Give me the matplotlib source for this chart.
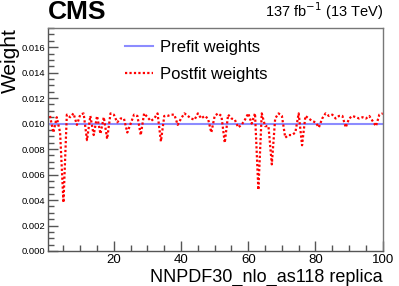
"""Prefit vs postfit PDF replica weights."""
import matplotlib
matplotlib.use("Agg")
import matplotlib.pyplot as plt
import numpy as np
from matplotlib.ticker import MultipleLocator, FormatStrFormatter

plt.rcParams["font.family"] = ["Liberation Sans", "DejaVu Sans"]

replica = np.arange(1, 101)
prefit = np.full(100, 0.01)
postfit = [
    0.0106, 0.0093, 0.0105, 0.0093, 0.0038, 0.0107, 0.0105, 0.0108, 0.0099, 0.0107,
    0.0108, 0.0087, 0.0106, 0.0091, 0.0106, 0.0092, 0.0105, 0.0088, 0.0108, 0.0107,
    0.0101, 0.0104, 0.0104, 0.0093, 0.0100, 0.0107, 0.0106, 0.0091, 0.0108, 0.0105,
    0.0102, 0.0104, 0.0108, 0.0086, 0.0106, 0.0106, 0.0107, 0.0107, 0.0099, 0.0104,
    0.0108, 0.0106, 0.0104, 0.0103, 0.0108, 0.0104, 0.0106, 0.0104, 0.0093, 0.0106,
    0.0108, 0.0106, 0.0085, 0.0107, 0.0104, 0.0103, 0.0097, 0.0099, 0.0103, 0.0108,
    0.0100, 0.0108, 0.0048, 0.0108, 0.0098, 0.0098, 0.0068, 0.0104, 0.0108, 0.0106,
    0.0089, 0.0091, 0.0091, 0.0093, 0.0108, 0.0083, 0.0106, 0.0104, 0.0102, 0.0101,
    0.0097, 0.0104, 0.0108, 0.0106, 0.0107, 0.0104, 0.0106, 0.0106, 0.0097, 0.0104,
    0.0106, 0.0105, 0.0104, 0.0105, 0.0104, 0.0106, 0.0102, 0.0098, 0.0107, 0.0108,
]

fig = plt.figure(figsize=(3.99, 2.86), dpi=100)
ax = fig.add_axes([0.1203, 0.1224, 0.8397, 0.7796])

ax.plot(replica, prefit, color="#8c8cff", lw=1.5, label="Prefit weights")
ax.plot(replica, postfit, color="#ff0000", lw=1.6, linestyle=(0, (1, 1)),
        dash_capstyle="butt", label="Postfit weights")

ax.set_xlim(0.4, 100.1)
ax.set_ylim(0.0, 0.0175)
ax.xaxis.set_major_locator(MultipleLocator(20))
ax.xaxis.set_minor_locator(MultipleLocator(5))
ax.yaxis.set_major_locator(MultipleLocator(0.002))
ax.yaxis.set_minor_locator(MultipleLocator(0.0005))
ax.yaxis.set_major_formatter(FormatStrFormatter("%.3f"))
ax.tick_params(which="both", direction="in", top=False, right=False, color="#555555")
ax.tick_params(which="major", length=7, width=1)
ax.tick_params(which="minor", length=4, width=1)
ax.tick_params(axis="x", labelsize=9.5, pad=2.5)
ax.tick_params(axis="y", labelsize=6.8, pad=2)
for side in ax.spines.values():
    side.set_color("#777777")
    side.set_linewidth(1)
ax.spines["left"].set_color("#555555")
ax.spines["bottom"].set_color("#555555")

ax.set_ylabel("Weight", fontsize=15, loc="top")
ax.yaxis.set_label_coords(-0.085, 1.0)
ax.set_xlabel("NNPDF30_nlo_as118 replica", fontsize=13, loc="right", va="baseline")
ax.xaxis.set_label_coords(1.0, -0.138)

ax.text(0.0, 1.02, "CMS", transform=ax.transAxes, fontsize=19,
        fontweight="bold", ha="left", va="bottom")
ax.text(1.0, 1.025, r"137 fb$^{-1}$ (13 TeV)", transform=ax.transAxes,
        fontsize=10.5, ha="right", va="bottom")

ax.legend(loc="upper left", bbox_to_anchor=(0.21, 0.975), frameon=False,
          fontsize=12, handlelength=1.7, handletextpad=0.4, labelspacing=0.7,
          borderaxespad=0.0)

fig.savefig("out.png", dpi=100, facecolor="white")
